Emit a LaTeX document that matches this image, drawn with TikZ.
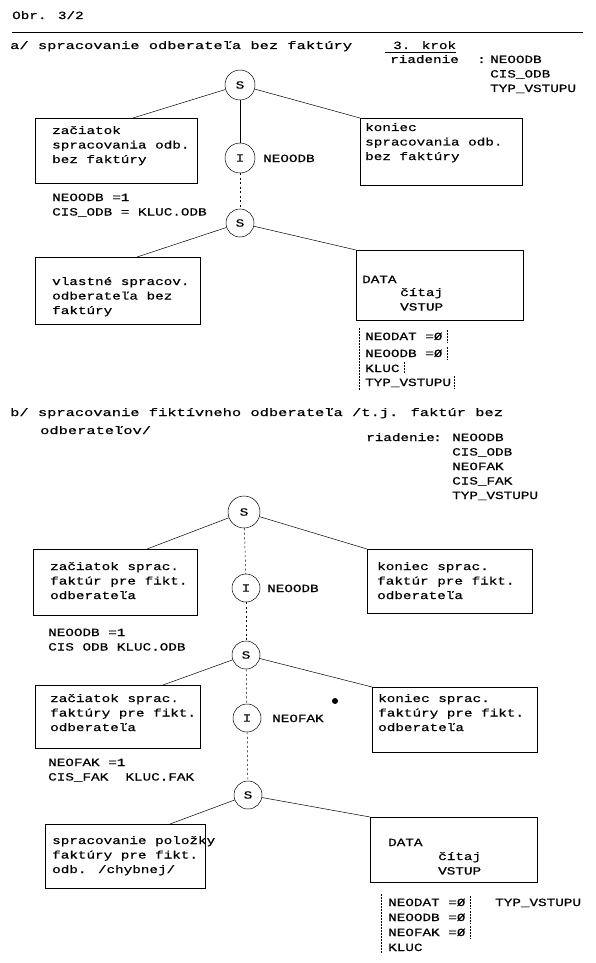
\documentclass[tikz,border=0pt]{standalone}
\usepackage{fontspec}
\setmainfont[FakeStretch=1.3,FakeBold=0.5]{Liberation Mono}
\newfontfamily\hdfont[FakeStretch=1.4,FakeBold=0.5]{Liberation Mono}
\newcommand{\mltext}[1]{\begin{tabular}[t]{@{}l@{}}#1\end{tabular}}
\begin{document}
\begin{tikzpicture}[x=1pt,y=-1pt,
  txt/.style={anchor=base west,inner sep=0pt,font=\fontsize{11}{14.5}\selectfont},
  hd/.style={anchor=base west,inner sep=0pt,font=\hdfont\fontsize{11}{14.5}\selectfont},
  circ/.style={circle,draw,line width=0.5pt,minimum size=28pt,inner sep=0pt,font=\fontsize{11}{14.5}\selectfont},
  box/.style={rectangle,draw,line width=0.5pt,inner sep=0pt,anchor=north west},
  conn/.style={line width=0.5pt},
  vconn/.style={line width=0.5pt,dash pattern=on 2pt off 2.5pt},
  dots/.style={line width=0.5pt,dash pattern=on 1.2pt off 1.8pt}]
\useasboundingbox (0,0) rectangle (596,963);

% ---------- header ----------
\node[txt] (obr) at (12,19) {Obr. 3/2};
\coordinate (hlA) at (12,32);
\coordinate (hlB) at (583,32);
\draw[conn] (hlA) -- (hlB);
\node[hd] (ta) at (10,49) {a/ spracovanie odberateľa bez faktúry};
\node[txt] (krok) at (393,49) {3. krok};
\draw[conn] ([xshift=-8pt,yshift=-3pt]krok.base west) -- ([yshift=-3pt]krok.base east);
\node[txt] (riadA) at (390,63) {riadenie};
\node[txt] (colA) at (477,63) {:};
\node[txt] (riadAv) at (490,63) {\mltext{NEOODB\\CIS\_ODB\\TYP\_VSTUPU}};

% ---------- tree a ----------
\node[circ,minimum size=30pt] (S1) at (240,85) {S};
\node[circ,minimum size=30pt] (I1) at (240,158) {I};
\node[txt] (lI1) at (263,162) {NEOODB};
\node[circ] (S2) at (240,223) {S};

\node[box,minimum width=162pt,minimum height=65pt] (bA1L) at (35,118) {};
\node[txt] (tA1L) at (52,134) {\mltext{začiatok\\spracovania odb.\\bez faktúry}};
\node[box,minimum width=162pt,minimum height=67pt] (bA1R) at (360,118) {};
\node[txt] (tA1R) at (365,131) {\mltext{koniec\\spracovania odb.\\bez faktúry}};

\node[txt] (asgnA) at (52,201) {\mltext{NEOODB =1\\CIS\_ODB = KLUC.ODB}};

\node[box,minimum width=165pt,minimum height=67pt] (bA2L) at (35,257) {};
\node[txt] (tA2L) at (52,285) {\mltext{vlastné spracov.\\odberateľa bez\\faktúry}};
\node[box,minimum width=167pt,minimum height=70pt] (bA2R) at (356,250) {};
\node[txt] (tA2Ra) at (362,283) {DATA};
\node[txt] (tA2Rb) at (400,296) {\mltext{čítaj\\VSTUP}};

\node[txt] (la1) at (365,340) {NEODAT =Ø};
\node[txt] (la2) at (365,357) {NEOODB =Ø};
\node[txt] (la3) at (365,372) {KLUC};
\node[txt] (la4) at (365,386) {TYP\_VSTUPU};
\draw[dots] ([xshift=-6pt,yshift=4pt]la1.north west) -- ([xshift=-6pt,yshift=-3pt]la4.south west);
\draw[dots] ([xshift=5pt,yshift=2pt]la1.north east) -- ([xshift=5pt,yshift=-2pt]la1.south east);
\draw[dots] ([xshift=5pt,yshift=2pt]la2.north east) -- ([xshift=5pt,yshift=-2pt]la2.south east);
\draw[dots] ([xshift=5pt,yshift=2pt]la3.north east) -- ([xshift=5pt,yshift=-2pt]la3.south east);
\draw[dots] ([xshift=3pt,yshift=2pt]la4.north east) -- ([xshift=3pt,yshift=-2pt]la4.south east);

\draw[conn] (S1) -- ([xshift=98pt]bA1L.north west);
\draw[conn] (S1) -- (bA1R.north west);
\draw[conn] (S1) -- (I1);
\draw[vconn] (I1) -- (S2);
\draw[conn] (S2) -- ([xshift=102pt]bA2L.north west);
\draw[conn] (S2) -- (bA2R.north west);

% ---------- header b ----------
\node[hd] (tb) at (10,416) {b/ spracovanie fiktívneho odberateľa /t.j. faktúr bez};
\node[hd] (tb2) at (40,434) {odberateľov/};
\node[txt] (riadB) at (366,441) {riadenie};
\node[txt] (colB) at (433,441) {:};
\node[txt] (riadBv) at (452,441) {\mltext{NEOODB\\CIS\_ODB\\NEOFAK\\CIS\_FAK\\TYP\_VSTUPU}};

% ---------- tree b ----------
\node[circ,minimum size=32pt] (S3) at (244,512) {S};
\node[circ] (I2) at (246,588) {I};
\node[txt] (lI2) at (267,592) {NEOODB};
\node[circ] (S4) at (246,655) {S};
\node[circ] (I3) at (247,718) {I};
\node[txt] (lI3) at (272,722) {NEOFAK};
\node[circ] (S5) at (248,795) {S};

\node[box,minimum width=164pt,minimum height=66pt] (bB1L) at (33,549) {};
\node[txt] (tB1L) at (50,570) {\mltext{začiatok sprac.\\faktúr pre fikt.\\odberateľa}};
\node[box,minimum width=165pt,minimum height=64pt] (bB1R) at (367,549) {};
\node[txt] (tB1R) at (377,570) {\mltext{koniec sprac.\\faktúr pre fikt.\\odberateľa}};

\node[txt] (asgnB1) at (48,636) {\mltext{NEOODB =1\\CIS ODB KLUC.ODB}};

\node[box,minimum width=165pt,minimum height=63pt] (bB2L) at (35,685) {};
\node[txt] (tB2L) at (50,702) {\mltext{začiatok sprac.\\faktúry pre fikt.\\odberateľa}};
\node[box,minimum width=165pt,minimum height=65pt] (bB2R) at (372,687) {};
\node[txt] (tB2R) at (378,702) {\mltext{koniec sprac.\\faktúry pre fikt.\\odberateľa}};
\node[circle,fill,inner sep=0pt,minimum size=6pt] (dot) at (335,701) {};

\node[txt] (asgnB2) at (48,766) {\mltext{NEOFAK =1\\CIS\_FAK~~KLUC.FAK}};

\node[box,minimum width=160pt,minimum height=64pt] (bB3L) at (45,824) {};
\node[txt] (tB3L) at (52,844) {\mltext{spracovanie položky\\faktúry pre fikt.\\odb. /chybnej/}};
\node[box,minimum width=167pt,minimum height=65pt] (bB3R) at (370,817) {};
\node[txt] (tB3Ra) at (388,846) {DATA};
\node[txt] (tB3Rb) at (438,860) {\mltext{čítaj\\VSTUP}};

\node[txt] (lb1) at (388,906) {NEODAT =Ø};
\node[txt] (lb2) at (388,921) {NEOODB =Ø};
\node[txt] (lb3) at (388,936) {NEOFAK =Ø};
\node[txt] (lb4) at (388,951) {KLUC};
\node[txt] (lbT) at (495,906) {TYP\_VSTUPU};
\draw[dots] ([xshift=-7pt,yshift=4pt]lb1.north west) -- ([xshift=-7pt,yshift=-3pt]lb4.south west);
\draw[dots] ([xshift=5pt,yshift=2pt]lb1.north east) -- ([xshift=5pt,yshift=-2pt]lb1.south east);
\draw[dots] ([xshift=5pt,yshift=2pt]lb2.north east) -- ([xshift=5pt,yshift=-2pt]lb2.south east);
\draw[dots] ([xshift=5pt,yshift=2pt]lb3.north east) -- ([xshift=5pt,yshift=-2pt]lb3.south east);

\draw[conn] (S3) -- ([xshift=114pt]bB1L.north west);
\draw[conn] (S3) -- (bB1R.north west);
\draw[vconn] (S3) -- (I2);
\draw[vconn] (I2) -- (S4);
\draw[conn] (S4) -- ([xshift=128pt]bB2L.north west);
\draw[conn] (S4) -- (bB2R.north west);
\draw[vconn] (S4) -- (I3);
\draw[vconn] (I3) -- (S5);
\draw[conn] (S5) -- ([xshift=125pt]bB3L.north west);
\draw[conn] (S5) -- (bB3R.north west);
\end{tikzpicture}
\end{document}
